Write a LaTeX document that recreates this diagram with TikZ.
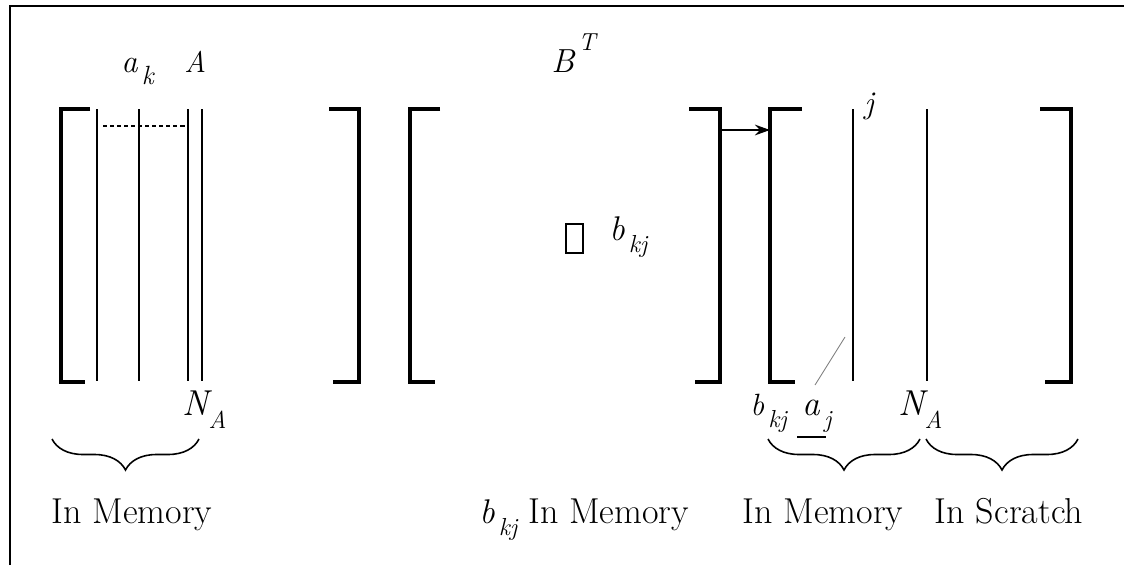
\documentclass[tikz,border=0pt]{standalone}
\usetikzlibrary{positioning, arrows.meta, decorations.pathreplacing}
\newcommand{\lowsub}[5]{{\fontsize{#1pt}{#1pt}\selectfont\itshape #2}\raisebox{-#5pt}{\fontsize{#3pt}{#3pt}\selectfont\itshape #4}}
\newcommand{\highsup}[5]{{\fontsize{#1pt}{#1pt}\selectfont\itshape #2}\raisebox{#5pt}{\fontsize{#3pt}{#3pt}\selectfont\itshape #4}}

\begin{document}
\begin{tikzpicture}[
    x=0.02cm, y=-0.02cm,
    frame/.style={line width=1.1pt},
    bracket/.style={line width=1.8pt},
    col/.style={line width=1.3pt},
    lbl/.style={inner sep=0pt, anchor=base west},
    txt/.style={inner sep=0pt, anchor=base, font=\fontsize{20.5}{24}\selectfont},
    curly/.style={decorate, decoration={brace, mirror, amplitude=0.62cm}, line width=0.9pt},
    arrow/.style={-{Stealth[length=8.5pt, width=6pt]}, line width=1.5pt},
  ]
    \useasboundingbox (0,0) rectangle (1124,565);
    \draw[frame] (10,565) -- (10,6) -- (1124,6);

    % matrix A
    \draw[bracket] (90,109) -- (61,109) -- (61,382) -- (85,382);
    \draw[bracket] (329,109) -- (359,109) -- (359,382) -- (333,382);
    \foreach \x in {97,139,188,202}
      \draw[col] (\x,109) -- (\x,381);
    \draw[line width=0.9pt, dash pattern=on 2.4pt off 1.6pt] (103,126) -- (188,126);
    \node[lbl] (AK) at (121,72) {\lowsub{18.5}{a}{15}{\,k}{7}};
    \node[lbl] (A) at (184,72) {\fontsize{17}{17}\selectfont\itshape A};
    \node[lbl] (NA1) at (182,415) {\lowsub{20.5}{N}{14}{A}{7.4}};

    % matrix B^T
    \draw[bracket] (440,109) -- (410,109) -- (410,382) -- (435,382);
    \draw[bracket] (689,109) -- (720,109) -- (720,382) -- (695,382);
    \node[lbl] (BT) at (551,72) {\highsup{19}{B}{14}{\,T}{12.5}};
    \node[draw, line width=1.2pt, minimum width=0.34cm, minimum height=0.58cm, inner sep=0pt] (BOX) at (574.5,238.5) {};
    \node[lbl] (BKJ1) at (609,240) {\lowsub{19.5}{b}{14}{\,kj}{7}};

    % matrix C
    \draw[bracket] (802,109) -- (770,109) -- (770,382) -- (795,382);
    \draw[bracket] (1040,109) -- (1071,109) -- (1071,382) -- (1045,382);
    \foreach \x in {853,927}
      \draw[col] (\x,109) -- (\x,381);
    \node[lbl] (J) at (864,113) {\fontsize{18}{18}\selectfont\itshape j};
    \node[lbl] (BKJ2) at (750,415) {\lowsub{17.5}{b}{14}{\,kj}{7}};
    \node[lbl] (AJ) at (802,415) {\lowsub{20}{a}{14}{\,j}{7}};
    \node[lbl] (NA2) at (898,415) {\lowsub{20.5}{N}{14}{A}{7.4}};
    \draw[line width=0.9pt] (797,437) -- (826,437);

    \coordinate (BR) at (720,130);
    \coordinate (CL) at (770,130);
    \draw[arrow] (BR) -- (CL);
    \coordinate (PTOP) at (845,337);
    \coordinate (PBOT) at (815,385);
    \draw[gray, line width=0.5pt] (PBOT) -- (PTOP);

    % braces and captions
    \draw[curly] (52,439) -- (199,439);
    \draw[curly] (768,439) -- (920,439);
    \draw[curly] (926,439) -- (1078,439);
    \node[txt] (MEM1) at (132,523) {In Memory};
    \node[lbl, font=\fontsize{20.5}{24}\selectfont] (MEM2) at (479,523) {\lowsub{19.5}{b}{14}{\,kj}{7}\ In Memory};
    \node[txt] (MEM3) at (823,523) {In Memory};
    \node[txt] (SCR) at (1009,523) {In Scratch};
\end{tikzpicture}
\end{document}
